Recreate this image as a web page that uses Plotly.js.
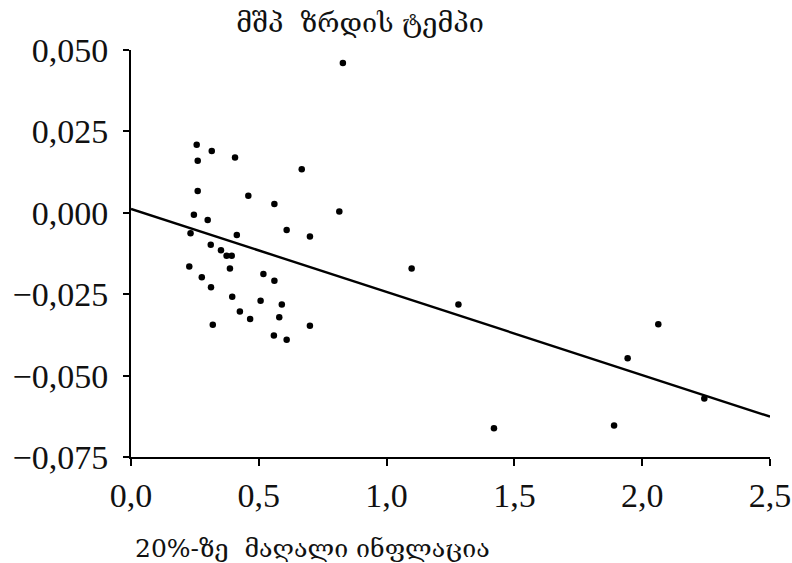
<!DOCTYPE html>
<html>
<head>
<meta charset="utf-8">
<script src="https://cdn.plot.ly/plotly-3.0.1.min.js"></script>
<style>html,body{margin:0;padding:0;background:#fff;}#chart{width:792px;height:563px;}</style>
</head>
<body>
<div id="chart"></div>
<script>
// Scatter points: inflation above 20% (x) vs GDP growth rate (y)
const inflation = [0.257,0.316,0.261,0.407,0.668,0.261,0.459,0.561,0.815,0.246,0.300,0.609,0.700,0.233,0.414,0.312,0.352,0.374,0.394,0.228,0.387,0.518,0.561,0.277,0.313,0.396,0.507,0.590,0.426,0.466,0.580,0.320,0.700,0.559,0.609,0.829,1.098,1.281,2.063,1.943,2.243,1.420,1.890];
const gdpGrowth = [0.0209,0.0190,0.0160,0.0170,0.0134,0.0067,0.0052,0.0027,0.0004,-0.0006,-0.0022,-0.0053,-0.0073,-0.0063,-0.0068,-0.0098,-0.0115,-0.0132,-0.0132,-0.0165,-0.0171,-0.0188,-0.0209,-0.0198,-0.0229,-0.0258,-0.0270,-0.0282,-0.0303,-0.0326,-0.0321,-0.0344,-0.0347,-0.0377,-0.0390,0.0460,-0.0171,-0.0282,-0.0342,-0.0447,-0.0570,-0.0662,-0.0653];
// Fitted regression line end points
const fitX = [0, 2.5];
const fitY = [0.0012, -0.0626];
// Tick labels
const xTickVals = [0, 0.5, 1.0, 1.5, 2.0, 2.5];
const xTickText = ["0,0", "0,5", "1,0", "1,5", "2,0", "2,5"];
const yTickVals = [0.05, 0.025, 0, -0.025, -0.05, -0.075];
const yTickText = ["0,050", "0,025", "0,000", "\u22120,025", "\u22120,050", "\u22120,075"];
const titleText = "მშპ  ზრდის ტემპი";
const xTitleText = "20%-ზე  მაღალი ინფლაცია";

const traces = [
  {x: fitX, y: fitY, mode: 'lines', type: 'scatter', line: {color: '#000', width: 2.4}, hoverinfo: 'skip', cliponaxis: false},
  {x: inflation, y: gdpGrowth, mode: 'markers', type: 'scatter', marker: {color: '#000', size: 6.5}, cliponaxis: false}
];
const serif = 'Liberation Serif, Times New Roman, serif';
const georgian = 'DejaVu Serif, DejaVu Sans, serif';
const layout = {
  width: 792, height: 563,
  margin: {l: 131, r: 22, t: 50, b: 106},
  paper_bgcolor: '#fff', plot_bgcolor: '#fff',
  showlegend: false,
  title: {text: titleText, x: 360/792, xanchor: 'center', xref: 'container', y: 1 - 23/563, yanchor: 'middle', yref: 'container',
          font: {family: georgian, size: 27, color: '#111'}},
  xaxis: {range: [0, 2.5], showgrid: false, zeroline: false, showline: true, linecolor: '#000', linewidth: 2,
          ticks: 'outside', ticklen: 7, tickwidth: 2, tickcolor: '#000', tickvals: xTickVals, ticktext: xTickText,
          tickfont: {family: serif, size: 34, color: '#111'}},
  yaxis: {range: [-0.075, 0.05], showgrid: false, zeroline: false, showline: true, linecolor: '#000', linewidth: 2,
          ticks: 'outside', ticklen: 6, tickwidth: 2, tickcolor: '#000', tickvals: yTickVals, ticktext: yTickText,
          ticklabelstandoff: 8,
          tickfont: {family: serif, size: 34, color: '#111'}},
  annotations: [{text: xTitleText, xref: 'paper', yref: 'paper', x: 0, xshift: 2, xanchor: 'left', y: 0, yanchor: 'middle',
                 yshift: -91, showarrow: false, font: {family: georgian, size: 25, color: '#111'}}]
};
Plotly.newPlot('chart', traces, layout, {displayModeBar: false, staticPlot: true});
</script>
</body>
</html>
